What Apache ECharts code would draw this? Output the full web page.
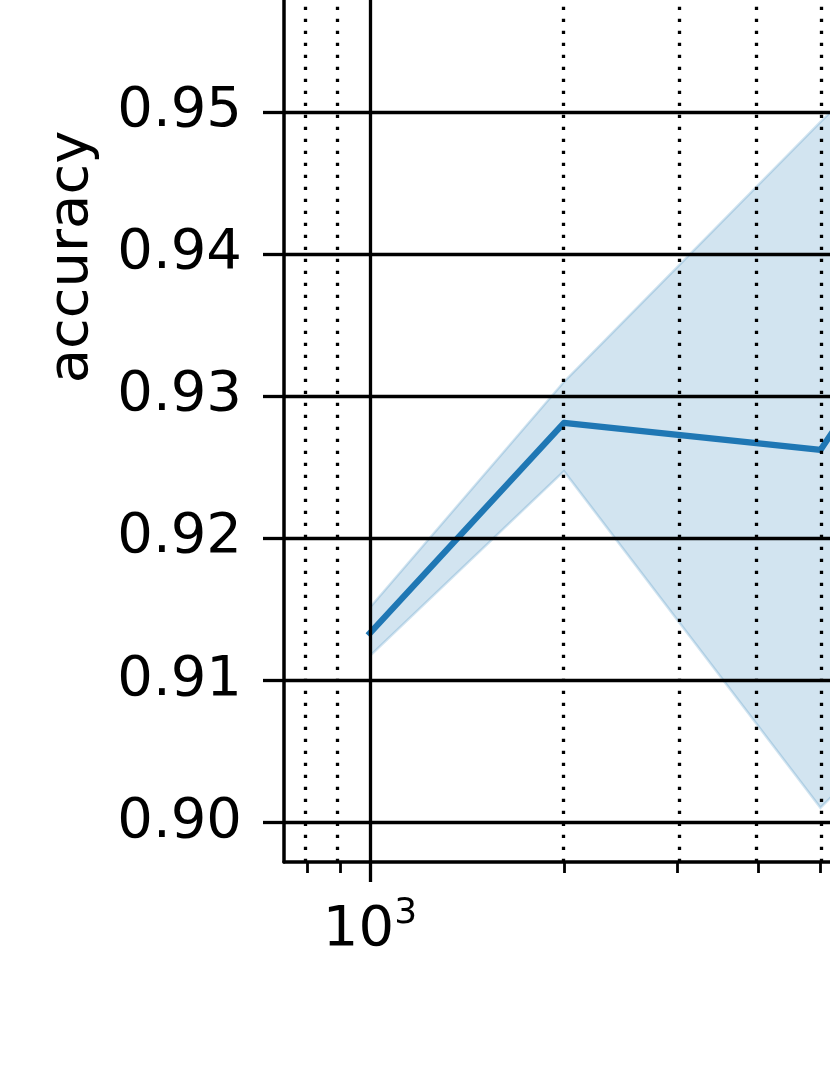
<!DOCTYPE html>
<html><head><meta charset="utf-8">
<script src="https://cdn.jsdelivr.net/npm/echarts@6/dist/echarts.min.js"></script>
<style>html,body{margin:0;padding:0;background:#fff}#c{width:830px;height:1075px}</style>
</head><body><div id="c"></div>
<script>
// ---- data ----
const sampleSizes   = [1000, 2000, 5000, 10000];
const meanAccuracy  = [0.9133, 0.9281, 0.9262, 0.9465];
const lowerAccuracy = [0.9117, 0.9247, 0.9010, 0.9145];
const upperAccuracy = [0.9151, 0.9310, 0.9493, 0.9628];
const yTickValues   = [0.90, 0.91, 0.92, 0.93, 0.94, 0.95, 0.96, 0.97, 0.98];
const xMajorTicks   = [1000, 10000];
const xMinorTicks   = [800, 900, 2000, 3000, 4000, 5000, 6000, 7000, 8000, 9000];
const xRange        = [735.6, 10000];
const yRange        = [0.89718, 0.98239];
const yLabel        = 'accuracy';

const FONT = 'DejaVu Sans';
const lx = v => Math.log10(v);
const BLUE = '#1f77b4';
const BAND = 'rgba(31,119,180,0.2)';

const solid  = {color:'#000', width:3.3, type:'solid'};
const dotted = {color:'#000', width:3.3, type:[3.3, 8.7]};

const gridMarks = []
  .concat(yTickValues.map(v => ({yAxis: v, lineStyle: solid})))
  .concat(xMajorTicks.map(v => ({xAxis: lx(v), lineStyle: solid})))
  .concat(xMinorTicks.map(v => ({xAxis: lx(v), lineStyle: dotted})));

function renderBand(params, api) {
  if (params.dataIndex !== 0) return null;
  const n = params.dataInsideLength;
  const up = [], lo = [];
  for (let i = 0; i < n; i++) {
    const x = api.value(0, i);
    up.push(api.coord([x, api.value(2, i)]));
    lo.push(api.coord([x, api.value(1, i)]));
  }
  const poly = up.concat(lo.slice().reverse());
  return {
    type: 'group',
    children: [
      {type: 'polygon', shape: {points: poly}, style: {fill: BAND, stroke: null}},
      {type: 'polyline', shape: {points: up}, style: {fill: null, stroke: BAND, lineWidth: 2.5}},
      {type: 'polyline', shape: {points: lo}, style: {fill: null, stroke: BAND, lineWidth: 2.5}}
    ]
  };
}

const chart = echarts.init(document.getElementById('c'), null, {renderer:'canvas'});
chart.setOption({
  animation: false,
  backgroundColor: '#fff',
  textStyle: {fontFamily: FONT},
  grid: {left: 284, top: -348, right: -184.5, bottom: 213, containLabel: false, outerBoundsMode: 'none'},
  xAxis: [
    {
      type: 'value', min: lx(xRange[0]), max: lx(xRange[1]),
      axisLine: {show: true, onZero: false, lineStyle: {color:'#000', width:3.5}},
      axisTick: {show: true, customValues: xMajorTicks.map(lx), length: 20, lineStyle: {color:'#000', width:3.3}},
      axisLabel: {
        show: true, customValues: xMajorTicks.map(lx), margin: 34,
        color: '#000', fontFamily: FONT, fontSize: 56,
        formatter: v => '{b|10}{sup|' + Math.round(v) + '}',
        rich: {
          b: {fontFamily: FONT, fontSize: 56, color:'#000', padding:[6,0,0,0]},
          sup: {fontFamily: FONT, fontSize: 36, color:'#000', verticalAlign: 'top'}
        }
      },
      splitLine: {show: false}
    },
    {
      type: 'value', min: lx(xRange[0]), max: lx(xRange[1]), position: 'bottom',
      axisLine: {show: false, onZero: false},
      axisTick: {show: true, customValues: xMinorTicks.map(lx), length: 11, lineStyle: {color:'#000', width:2.8}},
      axisLabel: {show: false},
      splitLine: {show: false}
    }
  ],
  yAxis: {
    type: 'value', min: yRange[0], max: yRange[1],
    axisLine: {show: true, onZero: false, lineStyle: {color:'#000', width:3.5}},
    axisTick: {show: true, customValues: yTickValues, length: 21, lineStyle: {color:'#000', width:3.3}},
    axisLabel: {
      show: true, customValues: yTickValues, margin: 42,
      color: '#000', fontFamily: FONT, fontSize: 56,
      formatter: v => v.toFixed(2)
    },
    splitLine: {show: false},
    name: yLabel, nameLocation: 'middle', nameRotate: 90, nameGap: 184,
    nameTextStyle: {color:'#000', fontFamily: FONT, fontSize: 56}
  },
  series: [
    {
      type: 'custom', name: 'band', z: 1, silent: true,
      data: sampleSizes.map((x, i) => [lx(x), lowerAccuracy[i], upperAccuracy[i]]),
      encode: {x: 0, y: [1, 2]},
      renderItem: renderBand
    },
    {
      type: 'line', name: 'grid', z: 2, data: [], silent: true,
      markLine: {
        silent: true, symbol: ['none', 'none'], animation: false,
        label: {show: false},
        data: gridMarks
      }
    },
    {
      type: 'line', name: 'mean', z: 3, showSymbol: false, silent: true,
      data: sampleSizes.map((x, i) => [lx(x), meanAccuracy[i]]),
      lineStyle: {color: BLUE, width: 6.2, cap: 'square', join: 'round'}
    }
  ]
});
</script>
</body></html>
